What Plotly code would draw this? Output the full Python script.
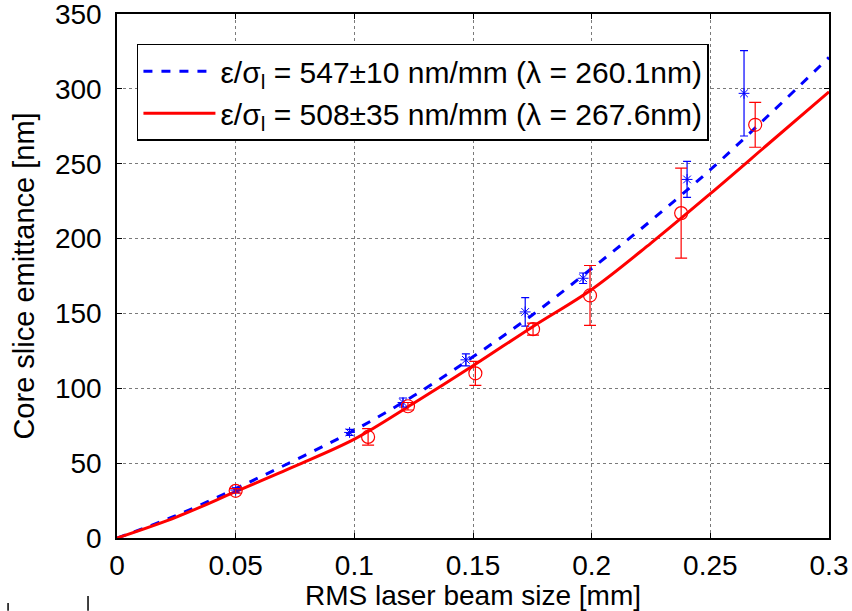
import plotly.graph_objects as go

# fitted curves
curve_x = [0, 0.025, 0.05, 0.075, 0.1, 0.125, 0.15, 0.175, 0.2, 0.225, 0.25, 0.275, 0.3]
blue_curve = [0, 15, 33, 52, 72, 95, 121, 149, 180, 212, 246, 283, 321]
red_curve = [0, 14, 31, 48, 66, 90, 115, 141, 166, 197, 230, 264, 298]

# measured points, 260.1 nm (blue asterisks)
blue_x = [0.05, 0.098, 0.1205, 0.147, 0.172, 0.1964, 0.2402, 0.2642]
blue_y = [32, 70.5, 90.5, 119, 151, 173.5, 239.5, 297]
blue_err = [1.5, 2, 3, 4, 9.5, 3.5, 12, 28.5]

# measured points, 267.6 nm (red circles)
red_x = [0.05, 0.1058, 0.1226, 0.151, 0.1753, 0.1993, 0.2377, 0.2689]
red_y = [31.5, 67.5, 88, 110, 139.5, 162, 217, 276]
red_err = [1.5, 5.5, 2.5, 8, 4, 20, 30, 15]

x_ticks = [0, 0.05, 0.1, 0.15, 0.2, 0.25, 0.3]
x_ticklabels = ["0", "0.05", "0.1", "0.15", "0.2", "0.25", "0.3"]
y_ticks = [0, 50, 100, 150, 200, 250, 300, 350]

legend_blue = "ε/σ<sub>l</sub> = 547±10 nm/mm (λ = 260.1nm)"
legend_red = "ε/σ<sub>l</sub> = 508±35 nm/mm (λ = 267.6nm)"

BLUE = "#0000ff"
RED = "#ff0000"
FONT = "Liberation Sans, Arial, sans-serif"

fig = go.Figure()
fig.add_trace(go.Scatter(x=curve_x, y=blue_curve, mode="lines", name=legend_blue,
                         line=dict(color=BLUE, width=3, dash="dash"), line_shape="spline"))
fig.add_trace(go.Scatter(x=curve_x, y=red_curve, mode="lines", name=legend_red,
                         line=dict(color=RED, width=3), line_shape="spline"))
fig.add_trace(go.Scatter(x=blue_x, y=blue_y, mode="markers", showlegend=False,
                         marker=dict(symbol="asterisk-open", size=9, color=BLUE,
                                     line=dict(color=BLUE, width=1)),
                         error_y=dict(type="data", array=blue_err, color=BLUE,
                                      thickness=1.2, width=4)))
fig.add_trace(go.Scatter(x=red_x, y=red_y, mode="markers", showlegend=False,
                         marker=dict(symbol="circle-open", size=13, color=RED,
                                     line=dict(color=RED, width=1.2)),
                         error_y=dict(type="data", array=red_err, color=RED,
                                      thickness=1.2, width=6)))

axis_common = dict(showline=True, linecolor="black", linewidth=1.5, mirror="ticks",
                   ticks="inside", ticklen=5, tickcolor="black", tickwidth=1,
                   showgrid=True, gridcolor="#7a7a7a", griddash="dot", gridwidth=1,
                   zeroline=False, automargin=False, ticklabeloverflow="allow",
                   tickfont=dict(family=FONT, size=28, color="black"))

fig.update_layout(
    width=852, height=611,
    margin=dict(l=117, r=23, t=14, b=73),
    paper_bgcolor="white", plot_bgcolor="white",
    xaxis=dict(range=[0, 0.3], tickvals=x_ticks, ticktext=x_ticklabels,
               ticklabelstandoff=2,
               title=dict(text="RMS laser beam size [mm]", standoff=4,
                          font=dict(family=FONT, size=28, color="black")),
               **axis_common),
    yaxis=dict(range=[0, 350], tickvals=y_ticks, ticklabelstandoff=8,
               title=dict(text="Core slice emittance [nm]", standoff=12,
                          font=dict(family=FONT, size=29, color="black")),
               **axis_common),
    legend=dict(x=0.028, y=0.943, xanchor="left", yanchor="top",
                bgcolor="white", bordercolor="black", borderwidth=1.5,
                font=dict(family=FONT, size=30, color="black"),
                itemwidth=72, tracegroupgap=0),
    showlegend=True,
    shapes=[
        dict(type="line", xref="paper", yref="paper", x0=-0.0407, x1=-0.0407,
             y0=-0.1107, y1=-0.139, line=dict(color="black", width=1.5)),
        dict(type="line", xref="paper", yref="paper", x0=-0.153, x1=-0.153,
             y0=-0.124, y1=-0.139, line=dict(color="black", width=1.5)),
    ],
)

fig.write_html("out.html")
